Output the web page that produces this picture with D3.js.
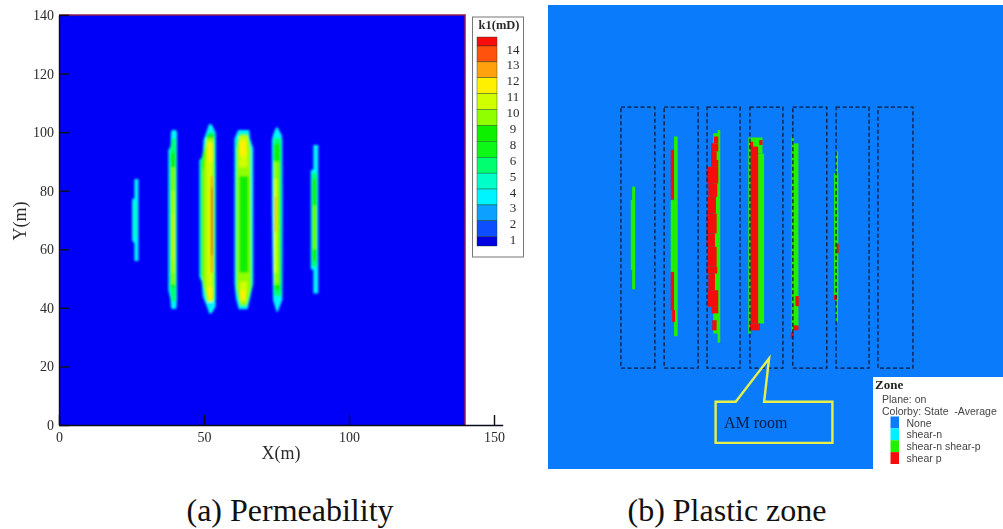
<!DOCTYPE html>
<html>
<head>
<meta charset="utf-8">
<script src="https://cdn.jsdelivr.net/npm/d3@7"></script>
<style>
  html, body { margin: 0; padding: 0; background: #fff; overflow: hidden; }
  text { font-family: "Liberation Serif", serif; }
</style>
</head>
<body>
<div id="chart"></div>
<script>
// Data //
const xTicks = [0, 50, 100, 150];
const yTicks = [0, 20, 40, 60, 80, 100, 120, 140];
const permLabels = ["14", "13", "12", "11", "10", "9", "8", "6", "5", "4", "3", "2", "1"];
const permColors = ["#f80808", "#ff5208", "#ffa008", "#fff000", "#d0ff00", "#90ff00", "#10f000",
  "#08f818", "#00ff70", "#00ffc8", "#00f4ff", "#0aa0ff", "#0850ff", "#0000e0"];
const plotBlue = "#0000fa";

// permeability contours: [colour index, [y, x left, x right] ...]
const band1 = [
  [10, [[84, 26, 27.4], [77.5, 26, 27.4], [77, 25.2, 27.4], [63, 25.2, 27.4], [62, 26, 27.4], [56, 26, 27.4]]],
  [9, [[76, 25.8, 26.9], [64, 25.8, 26.9]]]
];
const band2 = [
  [10, [[100.7, 39, 40.3], [100, 38.6, 40.7], [95, 38.5, 40.7], [94, 37.7, 40.7], [46, 37.7, 40.7], [43, 38.4, 40.7], [40, 38.6, 40.5], [39.6, 39, 40.2]]],
  [8, [[98, 39, 40.3], [94, 38.2, 40.4], [46, 38.2, 40.4], [42, 38.9, 40.3]]],
  [6, [[93, 38.5, 40.2], [47, 38.5, 40.2]]],
  [5, [[88, 38.9, 39.9], [48, 38.9, 39.9]]],
  [4, [[80, 39.1, 39.7], [52, 39.1, 39.7]]],
  [3, [[72, 39.2, 39.6], [56, 39.2, 39.6]]]
];
const band3 = [
  [10, [[102.7, 51.7, 52.6], [100, 50.8, 54], [97.3, 49.8, 54.1], [91.6, 49.5, 54.1], [90.4, 48.4, 54.1], [50.6, 48.4, 54.1], [48.9, 49.2, 54.1], [43.8, 49.6, 54.1], [40.4, 51, 54], [38.1, 51.8, 52.6]]],
  [8, [[100, 51.4, 53.6], [90, 48.8, 53.8], [51, 48.8, 53.8], [42, 50.8, 53.6]]],
  [6, [[99, 51, 53.5], [89, 49.1, 53.5], [52, 49.1, 53.5], [43, 51, 53.5]]],
  [5, [[98, 50.8, 53.2], [86, 49.6, 53.2], [50, 49.6, 53.2], [42, 51.2, 53.2]]],
  [4, [[97, 51, 53], [88, 50.8, 53], [47, 50.8, 53], [42, 51.4, 52.9]]],
  [3, [[96, 51.4, 52.8], [90, 51.6, 52.9]]],
  [3, [[47, 51.2, 52.9], [43, 51.6, 52.8]]],
  [2, [[85, 52.3, 53], [52, 52.3, 53]]],
  [0, [[81, 52.4, 52.9], [58, 52.4, 52.9]]]
];
const band4 = [
  [10, [[100.7, 61.8, 65.6], [97.8, 60.5, 65.9], [94.4, 60.5, 67], [48.3, 60.5, 67], [43.2, 61, 65.9], [39.5, 62, 65]]],
  [8, [[99.5, 62.2, 65.2], [96, 60.9, 66], [47, 60.9, 66.6], [43, 61.6, 65.6], [40.5, 62.4, 64.8]]],
  [5, [[99, 62.4, 65], [94, 61.3, 66.1], [47, 61.3, 66.1], [41, 62.6, 64.7]]],
  [6, [[85, 62.2, 65.3], [52, 62.2, 65.3]]],
  [4, [[98.5, 62.1, 64.9], [88, 62.1, 65]]],
  [4, [[49, 62.3, 64.8], [42, 62.5, 64.5]]],
  [3, [[97, 62.4, 64.5], [92, 62.4, 64.6]]],
  [3, [[46, 62.6, 64.4], [43, 62.8, 64.2]]]
];
const band5 = [
  [10, [[101.6, 74.8, 75.4], [99, 73.8, 76.8], [97.3, 73.4, 77], [73.4, 73.4, 77.1], [42.7, 73.8, 77], [38.7, 75, 75.4]]],
  [8, [[98, 74, 76.6], [44, 74.1, 76.7]]],
  [6, [[96, 74, 76.3], [46, 74.2, 76.3]]],
  [5, [[90, 74.1, 75.8], [48, 74.2, 75.8]]],
  [4, [[84, 74.2, 75.3], [52, 74.2, 75.3]]],
  [2, [[78, 74.4, 74.9], [66, 74.4, 74.9]]]
];
const band6 = [
  [10, [[95.6, 87.7, 89.4], [87.3, 87.7, 89.4], [87, 86.8, 89.4], [53.2, 86.8, 89.4], [52.9, 87.7, 89.4], [44.9, 87.7, 89.4]]],
  [8, [[86, 87.1, 89], [54, 87.1, 89]]],
  [6, [[84, 87.4, 88.8], [56, 87.4, 88.8]]],
  [5, [[75, 87.8, 88.5], [60, 87.8, 88.5]]]
];
const bands = [band1, band2, band3, band4, band5, band6];

// plastic zone model
const stateNames = ["None", "shear-n", "shear-n shear-p", "shear p"];
const stateColors = ["#0a7bfa", "#00f0ff", "#22f000", "#f50a0a"];
const roomEdges = [[22.1, 32.4], [35.2, 45.5], [48.2, 58.2], [61.2, 71.2], [74.2, 84.5], [87.3, 97.3], [100, 110.6]];
const roomY = [20, 100];
// zones: [state index, x left, x right, y top, y bottom]
const zones = [
  [2, 25.5, 26.4, 75.6, 44.2], [2, 25.1, 26.4, 71.5, 50.1],
  [2, 38.2, 39.3, 91, 29.8], [2, 37.2, 38.2, 71.5, 49],
  [3, 37.2, 38.2, 86.9, 71.7], [3, 37.2, 38.2, 49.5, 37.8], [3, 37.6, 38.5, 37.8, 34.2],
  [2, 51.4, 52.2, 93, 27.8], [2, 50.1, 51.6, 92, 30.6],
  [3, 50.3, 51.6, 91, 88.9], [3, 49.4, 51.6, 88.9, 86.4], [3, 49.4, 51.1, 86.4, 83.8],
  [3, 49.4, 51.6, 83.8, 81.7], [3, 48.1, 51.6, 81.7, 76.6], [3, 48.6, 51.3, 76.6, 72.5],
  [3, 48.4, 50.9, 72.5, 67.4], [3, 48.1, 51.1, 67.4, 61.3], [3, 48.1, 50.6, 61.3, 57.2],
  [3, 48.4, 51.1, 57.2, 51.1], [3, 48.1, 51.3, 51.1, 49], [3, 48.6, 50.6, 49, 43.9],
  [3, 48.4, 51.6, 43.9, 38.8], [3, 49.6, 51.6, 38.8, 36.8], [3, 49.8, 51.1, 34.7, 31.6],
  [2, 60.7, 61.4, 90.7, 30.6], [2, 61.4, 65.5, 85.8, 33.7], [2, 61.4, 65, 90.7, 85.8],
  [3, 61.4, 63.7, 87.9, 33.7], [3, 61.2, 64.2, 33.7, 31.6], [3, 61.2, 62.2, 89.4, 87.4], [3, 64, 65, 89.9, 88.4],
  [2, 73.8, 74.5, 91, 30.6], [2, 74.5, 75.9, 88.9, 32.7],
  [3, 75, 76, 42.1, 39], [3, 74.3, 75.9, 33.1, 31.6], [3, 73.6, 74.5, 31.1, 29.1],
  [2, 87.3, 87.9, 86.4, 34.2], [2, 86.7, 88, 79.7, 40.9],
  [3, 87.5, 88.1, 58.2, 55.2], [3, 86.7, 87.5, 42.4, 40.9]
];
const calloutPoints = [[50.8, 9.7], [56.9, 9.7], [67, 23], [65.5, 9.7], [86.2, 9.7], [86.2, -2.9], [50.8, -2.9]];

// Settings //
const svgStyles = { w: 1003, h: 529 };
const textColor = "#2c2c2c";

const svg = d3
  .select("#chart")
  .append("svg")
  .attr("width", svgStyles.w)
  .attr("height", svgStyles.h)
  .style("display", "block");

const defs = svg.append("defs");
defs.append("filter").attr("id", "soft").append("feGaussianBlur").attr("stdDeviation", 0.8);
defs.append("filter").attr("id", "softer").append("feGaussianBlur").attr("stdDeviation", 0.4);

// Panel a //
const xScale = d3.scaleLinear().domain([0, 153]).range([59, 502.7]);
const yScale = d3.scaleLinear().domain([0, 140]).range([425, 15]);

svg
  .append("rect")
  .attr("x", xScale(0))
  .attr("y", yScale(140))
  .attr("width", xScale(140) - xScale(0))
  .attr("height", yScale(0) - yScale(140))
  .attr("fill", plotBlue);

const contourArea = d3
  .area()
  .x0(d => xScale(d[1]))
  .x1(d => xScale(d[2]))
  .y(d => yScale(d[0]));

svg
  .append("g")
  .attr("filter", "url(#soft)")
  .selectAll("g")
  .data(bands)
  .join("g")
  .selectAll("path")
  .data(d => d)
  .join("path")
  .attr("d", d => contourArea(d[1]))
  .attr("fill", d => permColors[d[0]]);

// maroon frame on top and right
svg
  .append("path")
  .attr("d", d3.line().x(d => xScale(d[0])).y(d => yScale(d[1]))([[0, 140], [140, 140], [140, 0]]))
  .attr("fill", "none")
  .attr("stroke", "#8e1c50")
  .attr("stroke-width", 1.5);

const xAxis = d3
  .axisBottom(xScale)
  .tickValues(xTicks)
  .tickSizeInner(-10)
  .tickSizeOuter(0)
  .tickPadding(7);
const yAxis = d3
  .axisLeft(yScale)
  .tickValues(yTicks)
  .tickSizeInner(-10)
  .tickSizeOuter(0)
  .tickPadding(5);

const axes = svg.append("g").attr("filter", "url(#softer)");
axes.append("g").attr("transform", `translate(0, ${yScale(0)})`).call(xAxis);
axes.append("g").attr("transform", `translate(${xScale(0)}, 0)`).call(yAxis);
axes.selectAll("text").style("font-size", "14px").attr("fill", textColor)
  .style("font-family", '"Liberation Serif", serif');
axes.selectAll("path, line").attr("stroke", "#101018").attr("stroke-width", 1.4);

axes
  .append("text")
  .attr("x", 281)
  .attr("y", 459)
  .attr("text-anchor", "middle")
  .attr("fill", textColor)
  .style("font-size", "18px")
  .text("X(m)");
axes
  .append("text")
  .attr("transform", "translate(26, 221) rotate(-90)")
  .attr("text-anchor", "middle")
  .attr("fill", textColor)
  .style("font-size", "18px")
  .text("Y(m)");

// permeability legend
const legendG = svg.append("g").attr("filter", "url(#softer)");
legendG
  .append("rect")
  .attr("x", 472.5)
  .attr("y", 17)
  .attr("width", 51)
  .attr("height", 240)
  .attr("fill", "#fff")
  .attr("stroke", "#777");
legendG
  .append("text")
  .attr("x", 499)
  .attr("y", 29)
  .attr("text-anchor", "middle")
  .attr("fill", textColor)
  .style("font-size", "12.5px")
  .style("font-weight", "bold")
  .text("k1(mD)");

const legendScale = d3.scaleLinear().domain([0, permLabels.length - 1]).range([46, 236.7]);
legendG
  .selectAll(".cell")
  .data(permColors)
  .join("rect")
  .attr("class", "cell")
  .attr("x", 477)
  .attr("y", (d, i) => (i === 0 ? 37 : legendScale(i - 1)))
  .attr("width", 20)
  .attr("height", (d, i) => {
    if (i === 0) return legendScale(0) - 37;
    if (i === permColors.length - 1) return 246 - legendScale(i - 1);
    return legendScale(i) - legendScale(i - 1);
  })
  .attr("fill", d => d)
  .attr("stroke", "#224422")
  .attr("stroke-width", 0.4);
legendG
  .selectAll(".lab")
  .data(permLabels)
  .join("text")
  .attr("class", "lab")
  .attr("x", 513)
  .attr("y", (d, i) => legendScale(i) + 7.5)
  .attr("text-anchor", "middle")
  .attr("fill", textColor)
  .style("font-size", "13px")
  .text(d => d);

// Panel b //
const xB = d3.scaleLinear().domain([0, 137.9]).range([548, 1003]);
const yB = d3.scaleLinear().domain([-10.9, 131.3]).range([469, 5]);

svg
  .append("rect")
  .attr("x", xB(0))
  .attr("y", yB(131.3))
  .attr("width", xB(137.9) - xB(0))
  .attr("height", yB(-10.9) - yB(131.3))
  .attr("fill", stateColors[0]);

svg
  .append("g")
  .attr("filter", "url(#softer)")
  .selectAll("rect")
  .data(zones)
  .join("rect")
  .attr("x", d => xB(d[1]))
  .attr("y", d => yB(d[3]))
  .attr("width", d => xB(d[2]) - xB(d[1]))
  .attr("height", d => yB(d[4]) - yB(d[3]))
  .attr("fill", d => stateColors[d[0]]);

svg
  .append("g")
  .attr("filter", "url(#softer)")
  .selectAll("rect")
  .data(roomEdges)
  .join("rect")
  .attr("x", d => xB(d[0]))
  .attr("y", yB(roomY[1]))
  .attr("width", d => xB(d[1]) - xB(d[0]))
  .attr("height", yB(roomY[0]) - yB(roomY[1]))
  .attr("fill", "none")
  .attr("stroke", "#0c1c3c")
  .attr("stroke-width", 1.3)
  .attr("stroke-dasharray", "4 2.5");

const callout = svg.append("g").attr("filter", "url(#softer)");
callout
  .append("path")
  .attr("d", d3.line().x(d => xB(d[0])).y(d => yB(d[1])).curve(d3.curveLinearClosed)(calloutPoints))
  .attr("fill", "none")
  .attr("stroke", "#e6f04a")
  .attr("stroke-width", 2.4);
callout
  .append("text")
  .attr("x", 724)
  .attr("y", 428)
  .attr("fill", "#0c1c3c")
  .style("font-size", "16px")
  .text("AM room");

// zone legend
const zoneG = svg.append("g").attr("filter", "url(#softer)");
zoneG
  .append("rect")
  .attr("x", 873)
  .attr("y", 377)
  .attr("width", 130)
  .attr("height", 92)
  .attr("fill", "#fff");
zoneG
  .append("text")
  .attr("x", 875)
  .attr("y", 389)
  .attr("fill", "#222")
  .style("font-size", "13px")
  .style("font-weight", "bold")
  .text("Zone");
zoneG
  .selectAll(".info")
  .data(["Plane: on", "Colorby: State  -Average"])
  .join("text")
  .attr("class", "info")
  .attr("x", 882)
  .attr("y", (d, i) => 403 + i * 12)
  .attr("xml:space", "preserve")
  .attr("fill", "#444")
  .style("font-family", '"Liberation Sans", sans-serif')
  .style("font-size", "10.5px")
  .text(d => d);

const zoneLegend = d3.scaleBand().domain(stateNames).range([416.5, 464]);
zoneG
  .selectAll(".swatch")
  .data(stateNames)
  .join("rect")
  .attr("class", "swatch")
  .attr("x", 890.5)
  .attr("y", d => zoneLegend(d))
  .attr("width", 8.5)
  .attr("height", zoneLegend.bandwidth())
  .attr("fill", (d, i) => stateColors[i]);
zoneG
  .selectAll(".name")
  .data(stateNames)
  .join("text")
  .attr("class", "name")
  .attr("x", 906.5)
  .attr("y", d => zoneLegend(d) + 10)
  .attr("fill", "#444")
  .style("font-family", '"Liberation Sans", sans-serif')
  .style("font-size", "10.5px")
  .text(d => d);

// captions
svg
  .append("text")
  .attr("x", 290)
  .attr("y", 521)
  .attr("text-anchor", "middle")
  .attr("fill", "#111")
  .style("font-size", "32px")
  .text("(a) Permeability");
svg
  .append("text")
  .attr("x", 727)
  .attr("y", 521)
  .attr("text-anchor", "middle")
  .attr("fill", "#111")
  .style("font-size", "32px")
  .text("(b) Plastic zone");
</script>
</body>
</html>
